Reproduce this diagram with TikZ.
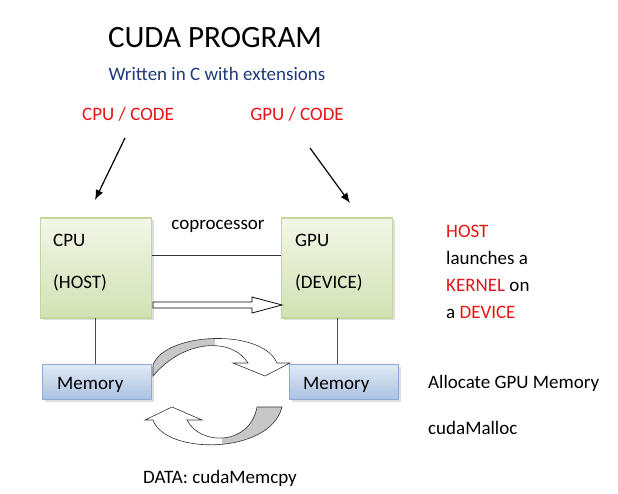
\documentclass[tikz,border=0pt]{standalone}
\usepackage{fontspec}
\setmainfont{Carlito}
\usetikzlibrary{shadows,arrows.meta}
\definecolor{dblue}{HTML}{1F3A7A}
\definecolor{gbor}{HTML}{C4D79B}
\definecolor{bbor}{HTML}{8EAAD6}
\begin{document}
\begin{tikzpicture}[x=1pt,y=-1pt,
  proc/.style={draw=gbor,line width=1.2pt,top color={rgb,255:red,242;green,247;blue,232},bottom color={rgb,255:red,210;green,225;blue,180},
    drop shadow={shadow xshift=2pt,shadow yshift=-2pt,fill=black!25},minimum width=111pt,minimum height=100pt,inner sep=0pt},
  mem/.style={draw=bbor,line width=1pt,top color={rgb,255:red,225;green,233;blue,245},bottom color={rgb,255:red,170;green,194;blue,226},
    drop shadow={shadow xshift=2pt,shadow yshift=-2pt,fill=black!25},minimum width=109pt,minimum height=35pt,inner sep=0pt},
  txt/.style={font=\fontsize{19}{21}\selectfont,inner sep=0pt},
  red/.style={txt,text={rgb,255:red,230;green,20;blue,20}}]
\useasboundingbox (0,0) rectangle (618,494);
\node[font=\fontsize{31}{34}\selectfont] (title) at (215,38) {CUDA PROGRAM};
\node[txt,text=dblue,font=\fontsize{19}{21}\selectfont] (sub) at (217,74) {Written in C with extensions};
\node[red] (cc) at (128,114) {CPU / CODE};
\node[red] (gc) at (297,114) {GPU / CODE};
\node[proc] (cpu) at (96,268) {};
\node[proc] (gpu) at (337,268) {};
\node[txt,anchor=west] (cpul) at (53,240) {CPU};
\node[txt,anchor=west] (hostl) at (53,283) {(HOST)};
\node[txt,anchor=west] (gpul) at (295,240) {GPU};
\node[txt,anchor=west] (devl) at (295,283) {(DEVICE)};
\node[txt] (cop) at (218,226) {coprocessor};
\node[mem] (m1) at (97,382) {};
\node[mem] (m2) at (344,382) {};
\node[txt,anchor=west] (m1l) at (57,385) {Memory};
\node[txt,anchor=west] (m2l) at (303,385) {Memory};
\coordinate (a1) at (125,138); \coordinate (a2) at (95,200);
\coordinate (b1) at (310,148); \coordinate (b2) at (350,203);
\draw[line width=1.2pt,-{Latex[length=10pt,width=8pt]}] (a1) -- (a2);
\draw[line width=1.2pt,-{Latex[length=10pt,width=8pt]}] (b1) -- (b2);
\draw[black!80] (152,255) -- (gpu.west |- 0,255);
\draw[black!70] (95,318) -- (m1.north -| 95,0);
\draw[black!70] (337,318) -- (m2.north -| 337,0);
% hollow arrow
\draw[fill=white,line width=0.8pt] (153,302) -- (252,302) -- (252,297) -- (282,305) -- (252,313) -- (252,308) -- (153,308) -- cycle;
% top curved arrow
\def\toparrow{(153,365) .. controls (165,332) and (262,328) .. (277,363) -- (290,363) -- (265,376) -- (233,363) -- (248,363) .. controls (233,338) and (185,338) .. (153,376) -- cycle}
\fill[white] \toparrow;
\begin{scope}\clip (0,0) rectangle (215,494); \fill[black!22] \toparrow; \end{scope}
\draw[black!80,line width=0.6pt] \toparrow;
% bottom curved arrow
\def\botarrow{(282,407) .. controls (270,455) and (165,455) .. (153,420) -- (145,420) -- (172,407) -- (202,420) -- (187,420) .. controls (200,446) and (250,446) .. (257,407) -- cycle}
\fill[white] \botarrow;
\begin{scope}\clip (222,0) rectangle (618,494); \fill[black!22] \botarrow; \end{scope}
\draw[black!80,line width=0.6pt] \botarrow;
\node[red,anchor=west] (h1) at (446,231) {HOST};
\node[txt,anchor=west] (h2) at (446,258) {launches a};
\node[txt,anchor=west] (h3) at (446,285) {\textcolor[RGB]{230,20,20}{KERNEL} on};
\node[txt,anchor=west] (h4) at (446,312) {a \textcolor[RGB]{230,20,20}{DEVICE}};
\node[txt,anchor=west] (al) at (428,383) {Allocate GPU Memory};
\node[txt,anchor=west] (cm) at (428,428) {cudaMalloc};
\node[txt] (dm) at (220,478) {DATA: cudaMemcpy};
\end{tikzpicture}
\end{document}
